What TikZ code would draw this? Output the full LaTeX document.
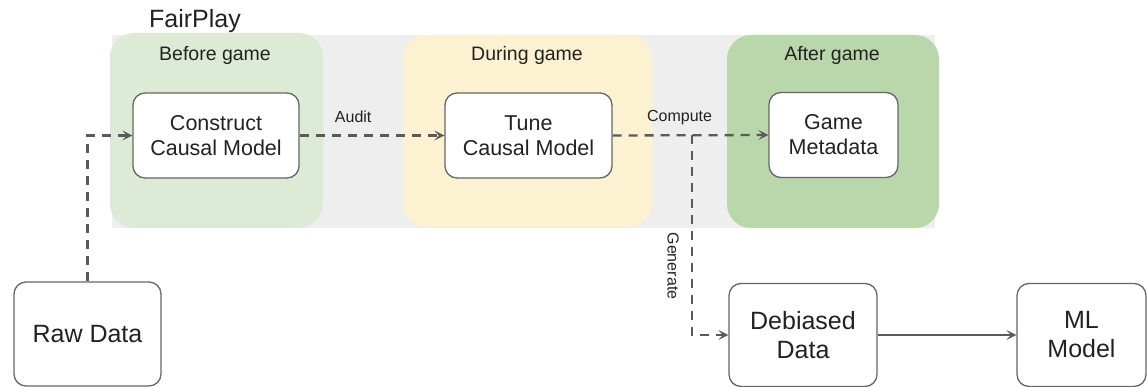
\documentclass[tikz,border=0pt]{standalone}
\usepackage{fontspec}
\setmainfont{Liberation Sans}
\usetikzlibrary{arrows.meta}
\definecolor{bandgray}{HTML}{EEEEEE}
\definecolor{phaseA}{HTML}{DDEAD6}
\definecolor{phaseB}{HTML}{FCF2D2}
\definecolor{phaseC}{HTML}{B9D7AB}
\definecolor{edgegray}{HTML}{666666}
\definecolor{linegray}{HTML}{5A5A5A}
\definecolor{inkgray}{HTML}{222222}
\tikzset{
  phaselabel/.style={font=\fontsize{19.5}{23}\selectfont, text=inkgray},
  stepbox/.style={draw=edgegray, line width=1.3pt, fill=white, rounded corners=12pt,
    align=center, inner sep=0pt, text=inkgray, font=\fontsize{21.5}{25}\selectfont},
  databox/.style={stepbox, font=\fontsize{25}{29}\selectfont},
  flow/.style={draw=linegray, line width=2.3pt, dash pattern=on 9pt off 7pt,
    -{Stealth[length=10pt,width=10pt,inset=4.5pt]}},
  solidflow/.style={draw=linegray, line width=2.3pt,
    -{Stealth[length=10pt,width=10pt,inset=4.5pt]}},
  edgelabel/.style={font=\fontsize{16}{19}\selectfont, text=inkgray},
}
\begin{document}
\begin{tikzpicture}[x=1pt,y=-1pt]
\useasboundingbox (0,0) rectangle (1147,387);

% shared band behind the three phases
\fill[bandgray] (112,35) rectangle (935,228);

% phases
\fill[phaseA, rounded corners=24pt] (110,33) rectangle (323,228);
\fill[phaseB, rounded corners=24pt] (403,35) rectangle (652,227);
\fill[phaseC, rounded corners=24pt] (727,35) rectangle (939,228);

\node[font=\fontsize{25}{29}\selectfont, text=inkgray] (title) at (195,21) {FairPlay};
\node[phaselabel] (lblA) at (215,55) {Before game};
\node[phaselabel] (lblB) at (527,55) {During game};
\node[phaselabel] (lblC) at (832,55) {After game};

% steps
\node[stepbox, minimum width=166pt, minimum height=85pt] (construct) at (216,135.5) {Construct\\Causal Model};
\node[stepbox, minimum width=167pt, minimum height=85pt] (tune) at (528.5,135.5) {Tune\\Causal Model};
\node[stepbox, minimum width=129pt, minimum height=85pt] (meta) at (833.5,135) {Game\\Metadata};

% data and model
\node[databox, minimum width=147pt, minimum height=104pt] (raw) at (87.5,334) {Raw Data};
\node[databox, minimum width=148pt, minimum height=103pt] (debiased) at (803,335) {Debiased\\Data};
\node[databox, minimum width=129pt, minimum height=103pt] (ml) at (1081.5,335) {ML\\Model};

% connectors
\coordinate (split) at (692,135);
\draw[flow] (raw.north) |- (construct.west);
\draw[flow] (construct.east) -- node[edgelabel, above=8pt, pos=0.37] (audit) {Audit} (tune.west);
\draw[flow] (tune.east) -- node[edgelabel, above=6pt, pos=0.43] (compute) {Compute} (meta.west);
\draw[flow] (split) |- (debiased.west);
\draw[solidflow] (debiased.east) -- (ml.west);
\node[edgelabel, rotate=-90] (generate) at (673,266) {Generate};
\end{tikzpicture}
\end{document}
